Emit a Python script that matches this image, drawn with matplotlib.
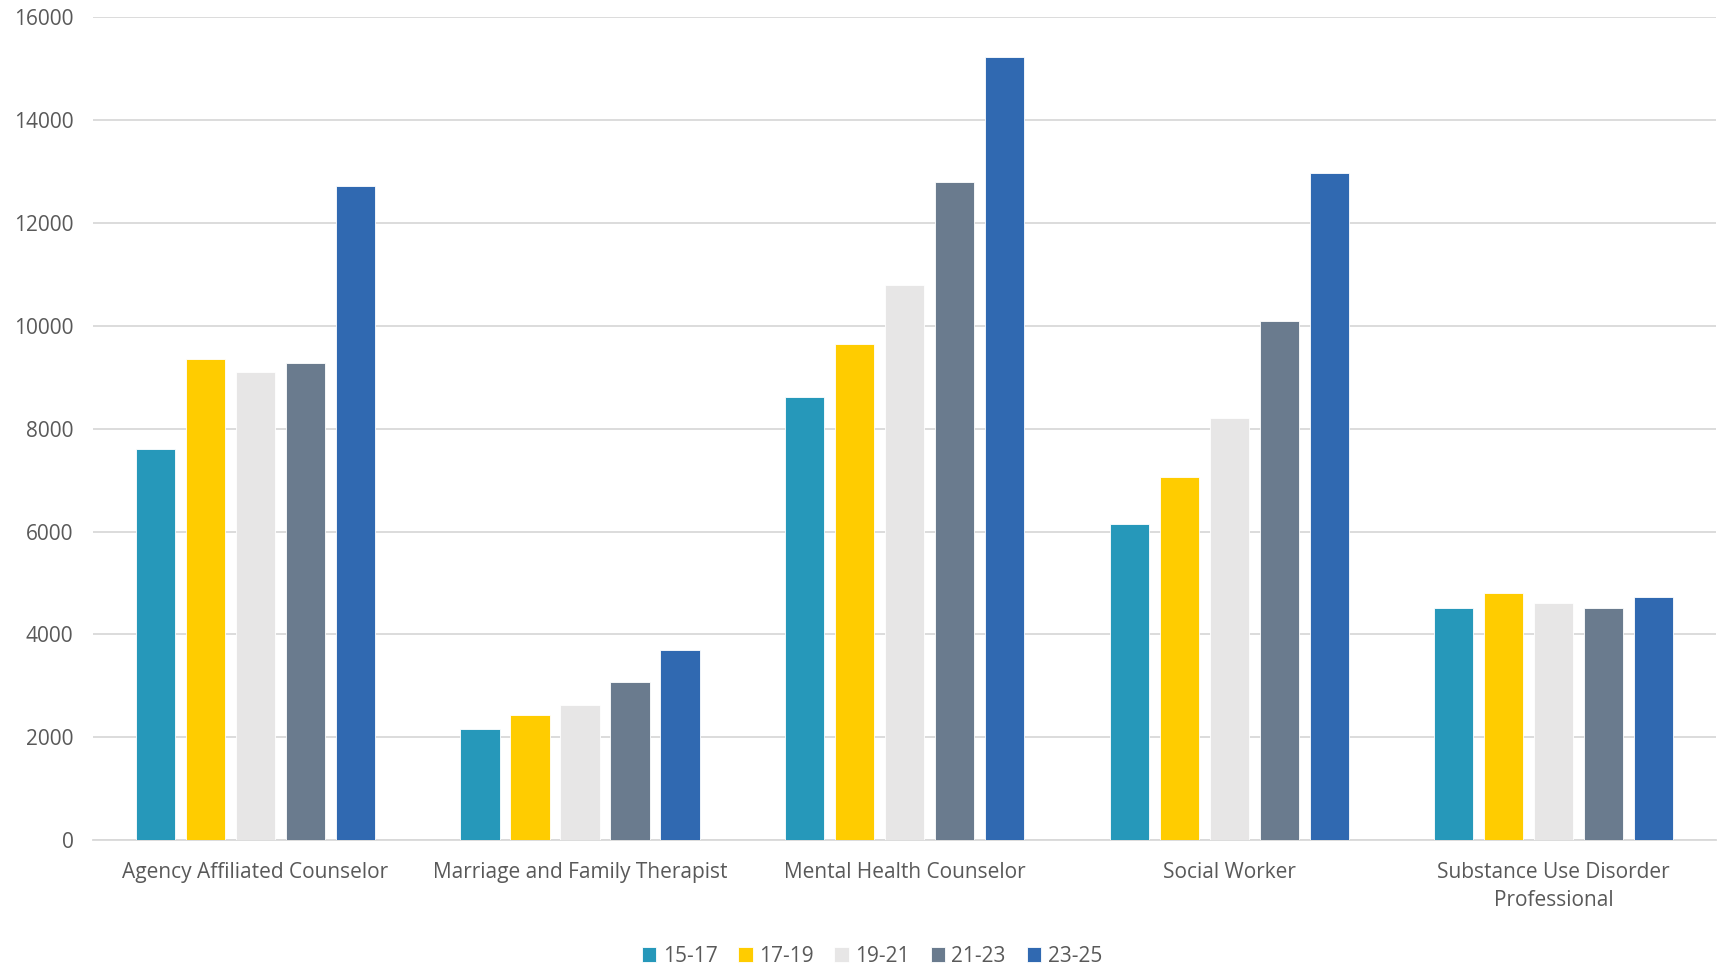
import numpy as np
import matplotlib.pyplot as plt

categories = [
    "Agency Affiliated Counselor",
    "Marriage and Family Therapist",
    "Mental Health Counselor",
    "Social Worker",
    "Substance Use Disorder\nProfessional",
]
periods = ["15-17", "17-19", "19-21", "21-23", "23-25"]

# values per period, one entry per category
v_15_17 = [7612, 2169, 8609, 6139, 4511]
v_17_19 = [9353, 2427, 9655, 7051, 4802]
v_19_21 = [9094, 2635, 10803, 8214, 4608]
v_21_23 = [9282, 3074, 12795, 10097, 4511]
v_23_25 = [12718, 3703, 15233, 12967, 4724]

colors = ["#2698BA", "#FFCC00", "#E7E6E6", "#6A7B8E", "#3069B1"]

plt.rcParams["font.family"] = ["Open Sans", "DejaVu Sans"]
text_col = "#595959"
fs = 15

fig = plt.figure(figsize=(17.23, 9.65), dpi=100)
ax = fig.add_axes([0.054, 0.1295, 0.942, 0.8525])

x = np.arange(len(categories))
series = [v_15_17, v_17_19, v_19_21, v_21_23, v_23_25]
bw = 0.121
step = 0.154
for i, (vals, c, lab) in enumerate(zip(series, colors, periods)):
    ax.bar(x + (i - 2) * step, vals, width=bw, color=c, label=lab,
           edgecolor="white", linewidth=0.6, zorder=3)

ax.set_xlim(-0.5, len(categories) - 0.5)
ax.set_ylim(0, 16000)
ax.set_yticks(np.arange(0, 16001, 2000))
ax.yaxis.grid(True, color="#D9D9D9", linewidth=1.3, zorder=0)
ax.set_axisbelow(True)
for s in ["top", "right", "left"]:
    ax.spines[s].set_visible(False)
ax.spines["bottom"].set_color("#D9D9D9")
ax.spines["bottom"].set_linewidth(1.3)

ax.set_xticks(x)
ax.set_xticklabels(categories, fontsize=fs, color=text_col, linespacing=1.45)
ax.tick_params(axis="both", length=0, labelsize=fs, colors=text_col)
ax.tick_params(axis="x", pad=16)
ax.tick_params(axis="y", pad=14)

leg = fig.legend(loc="lower center", bbox_to_anchor=(0.506, -0.021), ncol=5,
                 frameon=False, fontsize=fs, handlelength=0.7, handleheight=0.7,
                 handletextpad=0.3, columnspacing=1.0)
for t in leg.get_texts():
    t.set_color(text_col)

fig.savefig("out.png", dpi=100)
